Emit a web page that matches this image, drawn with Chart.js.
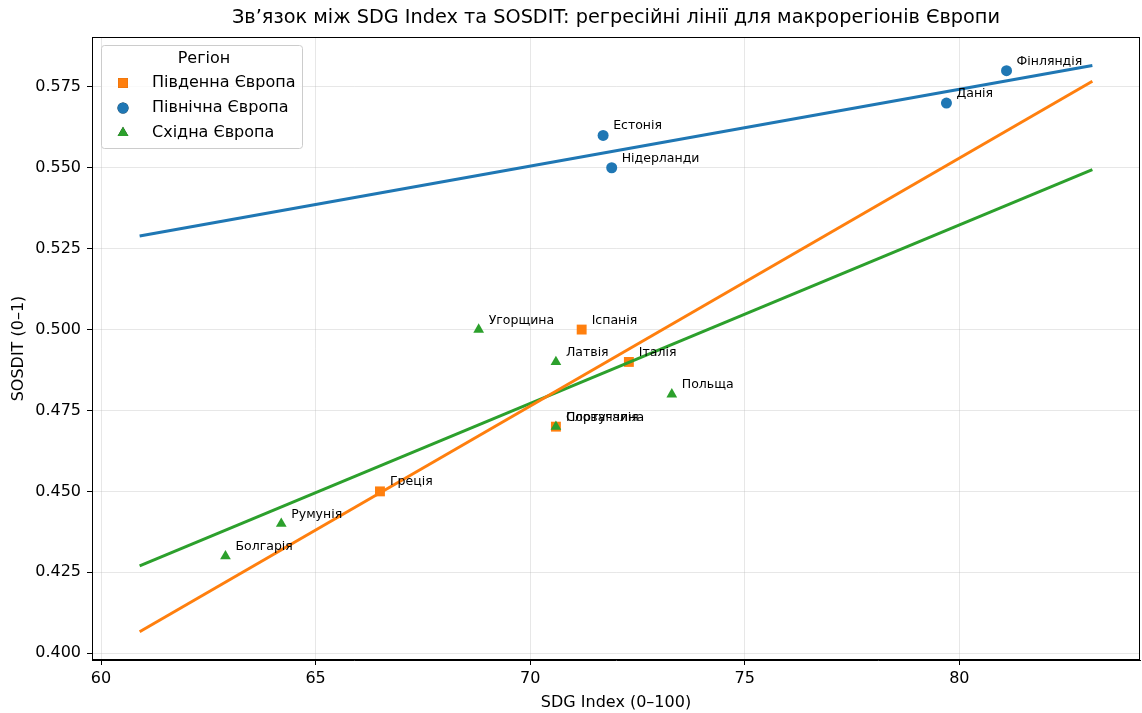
<!DOCTYPE html>
<html lang="uk">
<head>
<meta charset="utf-8">
<title>SDG Index та SOSDIT</title>
<script src="https://cdn.jsdelivr.net/npm/chart.js@4.4.1/dist/chart.umd.min.js"></script>
<style>
  html, body { margin: 0; padding: 0; background: #fff; }
  #wrap { width: 1142px; height: 713px; }
</style>
</head>
<body>
<div id="wrap"><canvas id="chart" width="1142" height="713"></canvas></div>
<script>
// === Дані ===
const chartTitle = 'Зв’язок між SDG Index та SOSDIT: регресійні лінії для макрорегіонів Європи';
const regions = ['Південна Європа', 'Північна Європа', 'Східна Європа'];
const regionColors = ['#ff7f0e', '#1f77b4', '#2ca02c'];
const regionMarkers = ['rect', 'circle', 'triangle'];

const southCountries = ['Іспанія', 'Італія', 'Португалія', 'Греція'];
const southSdg = [71.2, 72.3, 70.6, 66.5];
const southSosdit = [0.50, 0.49, 0.47, 0.45];

const northCountries = ['Естонія', 'Нідерланди', 'Данія', 'Фінляндія'];
const northSdg = [71.7, 71.9, 79.7, 81.1];
const northSosdit = [0.56, 0.55, 0.57, 0.58];

const eastCountries = ['Угорщина', 'Латвія', 'Польща', 'Словаччина', 'Румунія', 'Болгарія'];
const eastSdg = [68.8, 70.6, 73.3, 70.6, 64.2, 62.9];
const eastSosdit = [0.50, 0.49, 0.48, 0.47, 0.44, 0.43];

const xTicks = [60, 65, 70, 75, 80];
const yTicks = [0.400, 0.425, 0.450, 0.475, 0.500, 0.525, 0.550, 0.575];

const groups = [
  { names: southCountries, x: southSdg, y: southSosdit },
  { names: northCountries, x: northSdg, y: northSosdit },
  { names: eastCountries, x: eastSdg, y: eastSosdit }
];
const markerRadius = [7, 5.5, 6.2];
const markerOrder = [4, 3, 2]; // східна поверх південної

// === Регресія (МНК) ===
const allX = [].concat(southSdg, northSdg, eastSdg);
const lineFrom = Math.min(...allX) - 2;
const lineTo = Math.max(...allX) + 2;

function fitLine(xs, ys) {
  const n = xs.length;
  const mx = xs.reduce((a, b) => a + b, 0) / n;
  const my = ys.reduce((a, b) => a + b, 0) / n;
  let sxy = 0, sxx = 0;
  xs.forEach((x, i) => { sxy += (x - mx) * (ys[i] - my); sxx += (x - mx) * (x - mx); });
  const k = sxy / sxx;
  return [{ x: lineFrom, y: my + k * (lineFrom - mx) }, { x: lineTo, y: my + k * (lineTo - mx) }];
}

const datasets = [];
groups.forEach((g, i) => {
  datasets.push({
    label: regions[i],
    data: g.x.map((x, j) => ({ x: x, y: g.y[j] })),
    backgroundColor: regionColors[i],
    borderColor: regionColors[i],
    borderWidth: 0,
    pointStyle: regionMarkers[i],
    pointRadius: markerRadius[i],
    showLine: false,
    order: markerOrder[i]
  });
});
groups.forEach((g, i) => {
  datasets.push({
    label: regions[i] + ' (тренд)',
    data: fitLine(g.x, g.y),
    borderColor: regionColors[i],
    borderWidth: 3,
    pointRadius: 0,
    showLine: true,
    fill: false,
    order: 1
  });
});

// === Плагіни: рамка, заголовок, підписи, легенда ===
const framePlugin = {
  id: 'frame',
  afterDraw(chart) {
    const { ctx, chartArea: a } = chart;
    ctx.save();
    ctx.strokeStyle = '#000';
    ctx.lineWidth = 1;
    ctx.strokeRect(a.left + 0.5, a.top + 0.5, a.right - a.left - 1, a.bottom - a.top - 1);
    // заголовок по центру осей, як у matplotlib
    ctx.font = '19.3px "DejaVu Sans"';
    ctx.fillStyle = '#000';
    ctx.textAlign = 'center';
    ctx.textBaseline = 'middle';
    ctx.fillText(chartTitle, (a.left + a.right) / 2, 18);
    ctx.restore();
  }
};

const labelPlugin = {
  id: 'pointLabels',
  afterDatasetsDraw(chart) {
    const ctx = chart.ctx;
    ctx.save();
    ctx.font = '12.5px "DejaVu Sans"';
    ctx.fillStyle = '#000';
    ctx.textAlign = 'left';
    ctx.textBaseline = 'alphabetic';
    for (let i = 0; i < groups.length; i++) {
      const meta = chart.getDatasetMeta(i);
      meta.data.forEach((pt, j) => {
        ctx.fillText(groups[i].names[j], pt.x + 10, pt.y - 6);
      });
    }
    ctx.restore();
  }
};

const legendPlugin = {
  id: 'boxLegend',
  afterDraw(chart) {
    const ctx = chart.ctx;
    const a = chart.chartArea;
    const x0 = a.left + 9, y0 = a.top + 8, w = 201, h = 103;
    ctx.save();
    ctx.fillStyle = 'rgba(255,255,255,0.8)';
    ctx.strokeStyle = '#cccccc';
    ctx.lineWidth = 1;
    ctx.beginPath();
    ctx.roundRect(x0 + 0.5, y0 + 0.5, w, h, 3);
    ctx.fill();
    ctx.stroke();
    ctx.font = '16px "DejaVu Sans"';
    ctx.fillStyle = '#000';
    ctx.textAlign = 'center';
    ctx.textBaseline = 'middle';
    ctx.fillText('Регіон', x0 + 103, y0 + 14);
    ctx.textAlign = 'left';
    regions.forEach((r, i) => {
      const cy = y0 + 38 + i * 25;
      Chart.helpers.drawPoint(ctx, {
        pointStyle: regionMarkers[i],
        radius: markerRadius[i],
        rotation: 0,
        borderWidth: 0
      }, x0 + 22, cy);
      ctx.fillStyle = regionColors[i];
      ctx.fill();
      ctx.fillStyle = '#000';
      ctx.fillText(r, x0 + 51, cy);
    });
    ctx.restore();
  }
};

const gridColor = 'rgba(176,176,176,0.3)';
const axisFont = { family: 'DejaVu Sans', size: 16 };

new Chart(document.getElementById('chart').getContext('2d'), {
  type: 'scatter',
  data: { datasets: datasets },
  plugins: [framePlugin, labelPlugin, legendPlugin],
  options: {
    responsive: false,
    animation: false,
    devicePixelRatio: 1,
    layout: { autoPadding: false, padding: { left: 0, right: 2, top: 37, bottom: 0 } },
    plugins: {
      legend: { display: false },
      tooltip: { enabled: false },
      title: { display: false }
    },
    scales: {
      x: {
        type: 'linear',
        min: 59.79,
        max: 84.21,
        afterBuildTicks(scale) { scale.ticks = xTicks.map(v => ({ value: v })); },
        afterFit(scale) { scale.height = 53; },
        ticks: {
          color: '#000',
          font: axisFont,
          padding: 4,
          callback: v => String(v)
        },
        grid: { color: gridColor, lineWidth: 1, tickLength: 5, tickColor: '#000' },
        border: { display: true, color: '#000', width: 1 },
        title: {
          display: true,
          text: 'SDG Index (0–100)',
          color: '#000',
          font: axisFont,
          padding: { top: 2, bottom: 1 }
        }
      },
      y: {
        type: 'linear',
        min: 0.3979,
        max: 0.5904,
        afterBuildTicks(scale) { scale.ticks = yTicks.map(v => ({ value: v })); },
        afterFit(scale) { scale.width = 92; },
        ticks: {
          color: '#000',
          font: axisFont,
          padding: 6,
          callback: v => Number(v).toFixed(3)
        },
        grid: { color: gridColor, lineWidth: 1, tickLength: 5, tickColor: '#000' },
        border: { display: true, color: '#000', width: 1 },
        title: {
          display: true,
          text: 'SOSDIT (0–1)',
          color: '#000',
          font: axisFont,
          padding: { top: 9, bottom: 4 }
        }
      }
    }
  }
});
</script>
</body>
</html>
